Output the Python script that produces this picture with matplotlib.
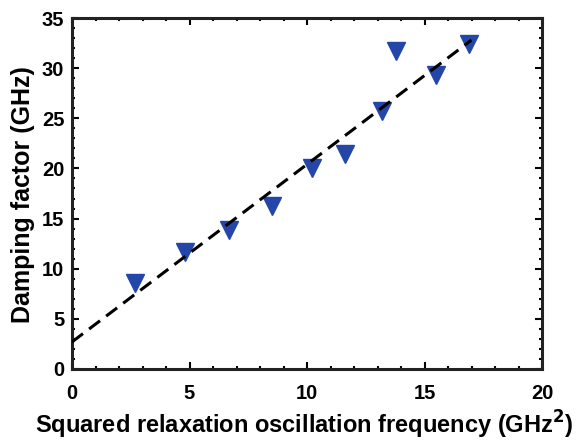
import matplotlib.pyplot as plt
from matplotlib.ticker import MultipleLocator

# data
freq_sq = [2.7, 4.8, 6.7, 8.5, 10.2, 11.6, 13.2, 13.8, 15.5, 16.9]
damping = [8.6, 11.7, 13.9, 16.3, 20.0, 21.4, 25.7, 31.7, 29.3, 32.4]
fit_x = [0, 17.0]
fit_y = [2.7, 32.8]

plt.rcParams['font.family'] = ['Liberation Sans', 'DejaVu Sans']
plt.rcParams['font.weight'] = 'bold'

fig = plt.figure(figsize=(5.77, 4.41), dpi=100)
ax = fig.add_axes([72/577, 1-369/441, 470/577, 351/441])

ax.plot(freq_sq, damping, linestyle='none', marker='v', markersize=13,
        color='#2446a8', zorder=2)
ax.plot(fit_x, fit_y, '--', color='black', linewidth=2.2, dashes=(4.5, 2.5), zorder=3)

ax.set_xlim(0, 20)
ax.set_ylim(0, 35)
ax.xaxis.set_major_locator(MultipleLocator(5))
ax.xaxis.set_minor_locator(MultipleLocator(1))
ax.yaxis.set_major_locator(MultipleLocator(5))
ax.yaxis.set_minor_locator(MultipleLocator(1))
ax.tick_params(which='both', direction='in', top=True, right=True, labelsize=14.5, width=1.5)
ax.tick_params(which='major', length=5)
ax.tick_params(which='minor', length=2.5)
ax.tick_params(axis='x', pad=11)
ax.tick_params(axis='y', pad=5.5)
for s in ax.spines.values():
    s.set_linewidth(2.2)
    s.set_color('#222222')

ax.set_xlabel('Squared relaxation oscillation frequency (GHz$^\\mathbf{2}$)',
              fontsize=17, fontweight='bold')
ax.set_ylabel('Damping factor (GHz)', fontsize=18, fontweight='bold')
ax.xaxis.set_label_coords(0.494, -0.114)
ax.yaxis.set_label_coords(-0.079, 0.496)

fig.savefig('out.png', dpi=100)
